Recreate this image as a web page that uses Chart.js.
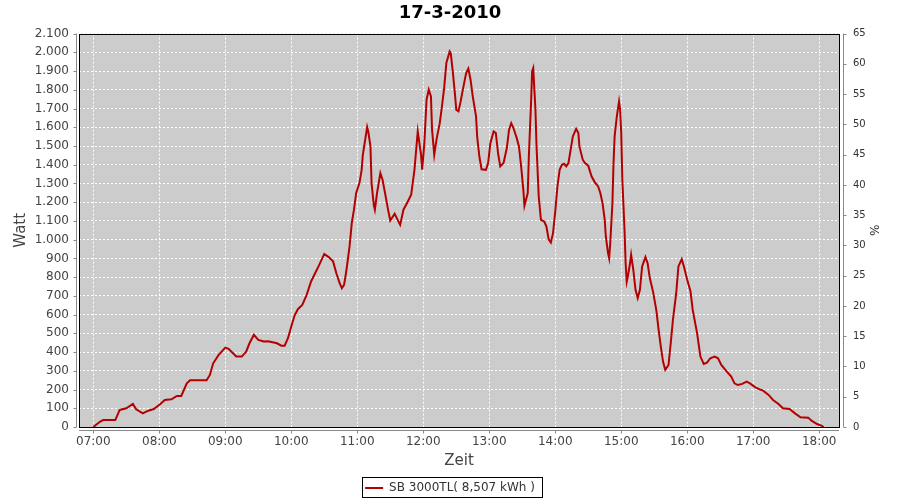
<!DOCTYPE html>
<html>
<head>
    <title>17-3-2010</title>
    <meta charset="utf-8">
    <script src="https://cdn.jsdelivr.net/npm/chart.js@4.4.1/dist/chart.umd.min.js"></script>
    <style>
        body{ margin:0; background:#fff;}
        #wrap{ width:900px; height:500px;}
    </style>
</head>
<body>
    <div id="wrap"><canvas id="myChart" width="900" height="500"></canvas></div>

    <script>
        // data (time of day, power in W)
        var times = ['07:00','07:06','07:09','07:20','07:24','07:30','07:36','07:39','07:45','07:50',
            '07:55','08:01','08:05','08:11','08:16','08:20','08:25','08:28','08:43','08:46',
            '08:49','08:54','09:00','09:03','09:10','09:15','09:19','09:22','09:26','09:30',
            '09:35','09:39','09:47','09:51','09:54','09:57','10:00','10:03','10:06','10:10',
            '10:14','10:18','10:22','10:25','10:30','10:34','10:38','10:41','10:44','10:46',
            '10:48','10:50','10:53','10:55','10:57','10:59','11:02','11:04','11:05','11:09',
            '11:10','11:12','11:13','11:15','11:16','11:18','11:21','11:23','11:25','11:28',
            '11:30','11:34','11:39','11:42','11:46','11:49','11:52','11:55','11:58','11:59',
            '12:01','12:03','12:05','12:07','12:08','12:10','12:12','12:15','12:17','12:19',
            '12:21','12:24','12:25','12:27','12:29','12:30','12:32','12:34','12:36','12:39',
            '12:41','12:43','12:45','12:48','12:49','12:51','12:53','12:57','12:59','13:01',
            '13:04','13:06','13:08','13:10','13:13','13:16','13:18','13:20','13:22','13:25',
            '13:27','13:29','13:31','13:32','13:35','13:36','13:38','13:39','13:40','13:42',
            '13:43','13:45','13:47','13:50','13:52','13:54','13:56','13:58','14:00','14:02',
            '14:04','14:06','14:08','14:10','14:12','14:14','14:16','14:19','14:21','14:22',
            '14:25','14:27','14:30','14:33','14:36','14:39','14:41','14:43','14:45','14:46',
            '14:48','14:49','14:50','14:52','14:53','14:54','14:56','14:58','14:59','15:00',
            '15:01','15:03','15:04','15:05','15:06','15:08','15:09','15:11','15:13','15:15',
            '15:17','15:19','15:22','15:24','15:26','15:29','15:32','15:34','15:36','15:38',
            '15:40','15:43','15:45','15:47','15:50','15:52','15:55','15:57','16:00','16:03',
            '16:05','16:09','16:12','16:15','16:18','16:21','16:25','16:28','16:31','16:36',
            '16:40','16:43','16:46','16:50','16:54','16:57','17:02','17:06','17:09','17:14',
            '17:18','17:23','17:27','17:33','17:38','17:43','17:50','17:53','17:58','18:02',
            '18:04'];
        var watts = [0,28,37,37,91,100,123,94,73,87,
            96,123,144,148,166,166,233,250,250,278,
            340,385,424,417,376,376,402,447,492,465,
            456,458,447,434,434,474,536,595,629,652,
            705,777,825,860,924,907,884,821,768,741,
            759,830,964,1088,1160,1249,1302,1373,1450,1601,
            1578,1498,1302,1186,1160,1249,1355,1320,1257,1160,
            1102,1138,1079,1160,1204,1240,1373,1578,1453,1373,
            1515,1747,1801,1765,1587,1453,1533,1622,1711,1810,
            1943,2005,1996,1889,1765,1694,1685,1738,1801,1889,
            1913,1854,1765,1658,1551,1444,1376,1373,1409,1515,
            1578,1569,1462,1391,1409,1489,1587,1622,1596,1542,
            1498,1391,1266,1181,1249,1444,1729,1899,1916,1694,
            1498,1231,1106,1097,1070,1002,985,1035,1150,1284,
            1373,1400,1405,1391,1409,1480,1551,1592,1569,1498,
            1427,1409,1395,1338,1306,1284,1249,1195,1106,1017,
            928,901,981,1195,1409,1551,1658,1738,1694,1569,
            1320,1053,874,776,803,874,919,839,732,688,
            732,857,907,874,795,720,620,518,429,349,
            305,331,447,572,714,857,896,857,786,723,
            625,500,376,337,344,367,376,367,331,296,
            269,233,224,230,242,233,212,201,194,171,
            144,123,100,96,73,52,50,34,16,7,
            0];
        var hourTicks = ['07:00','08:00','09:00','10:00','11:00','12:00','13:00','14:00','15:00','16:00','17:00','18:00'];
        var seriesLabel = 'SB 3000TL( 8,507 kWh )';

        function toMin(s){ var p = s.split(':'); return +p[0]*60 + +p[1]; }
        function fmtTime(m){ var h = Math.floor(m/60), mm = m%60; return (h<10?'0':'')+h+':'+(mm<10?'0':'')+mm; }
        function fmtWatt(v){ return String(v).replace(/\B(?=(\d{3})+(?!\d))/g, '.'); }

        var points = [];
        for (var i in times) points.push({x: toMin(times[i]), y: watts[i]});

        var FONT = 'DejaVu Sans';
        var AXIS_GRAY = '#888888';

        // plot background + black frame + offset axis lines like the original
        const plotDeco = {
            id: 'plotDeco',
            afterLayout(chart){
                // push the legend row a little lower
                chart.legend.top += 4;
                chart.legend.bottom += 4;
            },
            beforeDraw(chart){
                const a = chart.chartArea, ctx = chart.ctx;
                ctx.save();
                ctx.fillStyle = '#cccccc';
                ctx.fillRect(a.left, a.top, a.right - a.left, a.bottom - a.top);
                ctx.restore();
            },
            afterDraw(chart){
                const a = chart.chartArea, ctx = chart.ctx;
                ctx.save();
                ctx.strokeStyle = '#000';
                ctx.lineWidth = 1;
                ctx.strokeRect(Math.round(a.left)+0.5, Math.round(a.top)+0.5, Math.round(a.right-a.left), Math.round(a.bottom-a.top));
                // axis lines
                ctx.strokeStyle = AXIS_GRAY;
                ctx.beginPath();
                const lx = Math.round(a.left) - 3 + 0.5, rx = Math.round(a.right) + 4 + 0.5, by = Math.round(a.bottom) + 3 + 0.5;
                ctx.moveTo(lx, a.top); ctx.lineTo(lx, a.bottom);
                ctx.moveTo(rx, a.top); ctx.lineTo(rx, a.bottom);
                ctx.moveTo(a.left, by); ctx.lineTo(a.right, by);
                const y = chart.scales.y, y1 = chart.scales.y1, x = chart.scales.x;
                y.ticks.forEach(t => { const p = Math.round(y.getPixelForValue(t.value)) + 0.5; ctx.moveTo(lx - 3, p); ctx.lineTo(lx, p); });
                y1.ticks.forEach(t => { const p = Math.round(y1.getPixelForValue(t.value)) + 0.5; ctx.moveTo(rx, p); ctx.lineTo(rx + 3, p); });
                x.ticks.forEach(t => { const p = Math.round(x.getPixelForValue(t.value)) + 0.5; ctx.moveTo(p, by); ctx.lineTo(p, by + 3); });
                ctx.stroke();
                // frame around the legend item
                const hb = chart.legend.legendHitBoxes[0];
                if (hb) {
                    ctx.strokeStyle = '#000';
                    ctx.strokeRect(Math.round(hb.left) - 2.5, 477.5, Math.round(hb.width) + 10, 20);
                }
                ctx.restore();
            }
        };

        const config = {
            type: 'line',
            data: {
                datasets: [{
                    label: seriesLabel,
                    data: points,
                    borderColor: '#b40000',
                    backgroundColor: '#b40000',
                    borderWidth: 2,
                    pointRadius: 0,
                    pointStyle: 'line',
                    tension: 0,
                    yAxisID: 'y'
                }]
            },
            options: {
                responsive: false,
                animation: false,
                devicePixelRatio: 1,
                layout: { padding: { left: 0, right: 0, top: 0, bottom: 0 } },
                plugins: {
                    title: {
                        display: true,
                        text: '17-3-2010',
                        color: '#000',
                        font: { family: FONT, size: 18, weight: 'bold' },
                        padding: { top: 3, bottom: 9 }
                    },
                    legend: {
                        position: 'bottom',
                        labels: {
                            color: '#333',
                            font: { family: FONT, size: 12 },
                            usePointStyle: true,
                            pointStyleWidth: 18,
                            boxHeight: 12,
                            padding: 2
                        }
                    },
                    tooltip: { enabled: false }
                },
                scales: {
                    x: {
                        type: 'linear',
                        min: toMin('06:47'),
                        max: toMin('18:18'),
                        afterBuildTicks(s){ s.ticks = hourTicks.map(h => ({value: toMin(h)})); },
                        afterFit(s){ s.height = 500 - 427 - s.chart.legend.height; },
                        ticks: {
                            color: '#444',
                            font: { family: FONT, size: 12 },
                            padding: 8,
                            maxRotation: 0,
                            autoSkip: false,
                            callback: v => fmtTime(v)
                        },
                        grid: { color: '#ffffff', lineWidth: 1, drawTicks: false },
                        border: { display: false, dash: [2, 2] },
                        title: { display: true, text: 'Zeit', color: '#444', font: { family: FONT, size: 15 }, padding: { top: 0, bottom: 6 } }
                    },
                    y: {
                        position: 'left',
                        min: 0,
                        max: 2100,
                        afterFit(s){ s.width = 79; },
                        ticks: {
                            stepSize: 100,
                            color: '#444',
                            font: { family: FONT, size: 12 },
                            padding: 10,
                            callback: v => fmtWatt(v)
                        },
                        grid: { color: '#ffffff', lineWidth: 1, drawTicks: false },
                        border: { display: false, dash: [2, 2] },
                        title: { display: true, text: 'Watt', color: '#444', font: { family: FONT, size: 15 }, padding: { top: 12, bottom: 0 } }
                    },
                    y1: {
                        position: 'right',
                        min: 0,
                        max: 65,
                        afterFit(s){ s.width = 61; },
                        ticks: {
                            stepSize: 5,
                            color: '#333',
                            font: { family: FONT, size: 10 },
                            padding: 14
                        },
                        grid: { display: false, drawTicks: false },
                        border: { display: false },
                        title: { display: true, text: '%', color: '#333', font: { family: FONT, size: 12 }, padding: { top: 20, bottom: 0 } }
                    }
                }
            },
            plugins: [plotDeco]
        };

        var myChart = new Chart(document.getElementById('myChart'), config);
    </script>
</body>
</html>
